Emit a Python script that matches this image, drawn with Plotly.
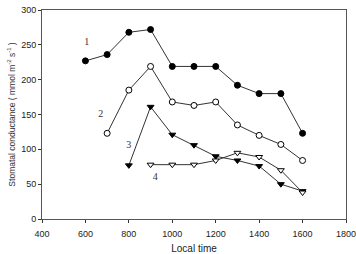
import plotly.graph_objects as go

x1 = [600, 700, 800, 900, 1000, 1100, 1200, 1300, 1400, 1500, 1600]
y1 = [227, 236, 268, 272, 219, 219, 219, 192, 180, 180, 123]
x2 = [700, 800, 900, 1000, 1100, 1200, 1300, 1400, 1500, 1600]
y2 = [123, 185, 219, 168, 163, 168, 135, 120, 107, 84]
x3 = [800, 900, 1000, 1100, 1200, 1300, 1400, 1500, 1600]
y3 = [77, 161, 121, 106, 90, 84, 76, 50, 40]
x4 = [900, 1000, 1100, 1200, 1300, 1400, 1500, 1600]
y4 = [78, 78, 78, 84, 95, 89, 70, 38]
label_text = ["1", "2", "3", "4"]
label_x = [606, 671, 799, 922]
label_y = [253, 150, 105, 59]

fig = go.Figure()
styles = [
    ("circle", "black", 6),
    ("circle", "white", 6),
    ("triangle-down", "black", 6),
    ("triangle-down", "white", 6),
]
for (xs, ys), (sym, col, sz) in zip([(x1, y1), (x2, y2), (x3, y3), (x4, y4)], styles):
    fig.add_trace(go.Scatter(
        x=xs, y=ys, mode="lines+markers",
        line=dict(color="#333333", width=1),
        marker=dict(symbol=sym, size=sz, color=col,
                    line=dict(color="black", width=1)),
        showlegend=False,
    ))
fig.add_trace(go.Scatter(
    x=label_x, y=label_y, mode="text", text=label_text,
    textfont=dict(family="Liberation Serif", size=10, color="#333333"),
    showlegend=False,
))

fig.update_layout(
    width=356, height=254,
    margin=dict(l=42, r=10, t=5, b=35),
    plot_bgcolor="white", paper_bgcolor="white",
    font=dict(family="Liberation Sans", size=9, color="#222222"),
)
fig.update_xaxes(
    range=[400, 1800], tickvals=[400, 600, 800, 1000, 1200, 1400, 1600, 1800],
    showgrid=False, zeroline=False, showline=True, linecolor="#555555", linewidth=1,
    mirror=True, ticks="outside", ticklen=3, tickcolor="#333333",
    ticklabeloverflow="allow", ticklabelstandoff=3, automargin=False,
    title=dict(text="Local time", font=dict(size=10), standoff=8),
)
fig.update_yaxes(
    range=[0, 300], tickvals=[0, 50, 100, 150, 200, 250, 300],
    showgrid=False, zeroline=False, showline=True, linecolor="#555555", linewidth=1,
    mirror=True, ticks="outside", ticklen=3, tickcolor="#333333",
    title=dict(text="Stomatal conductance ( mmol m<sup>-2</sup> s<sup>-1</sup> )",
               font=dict(size=8.5, color="#333333"), standoff=4),
)
fig.write_html("out.html")
